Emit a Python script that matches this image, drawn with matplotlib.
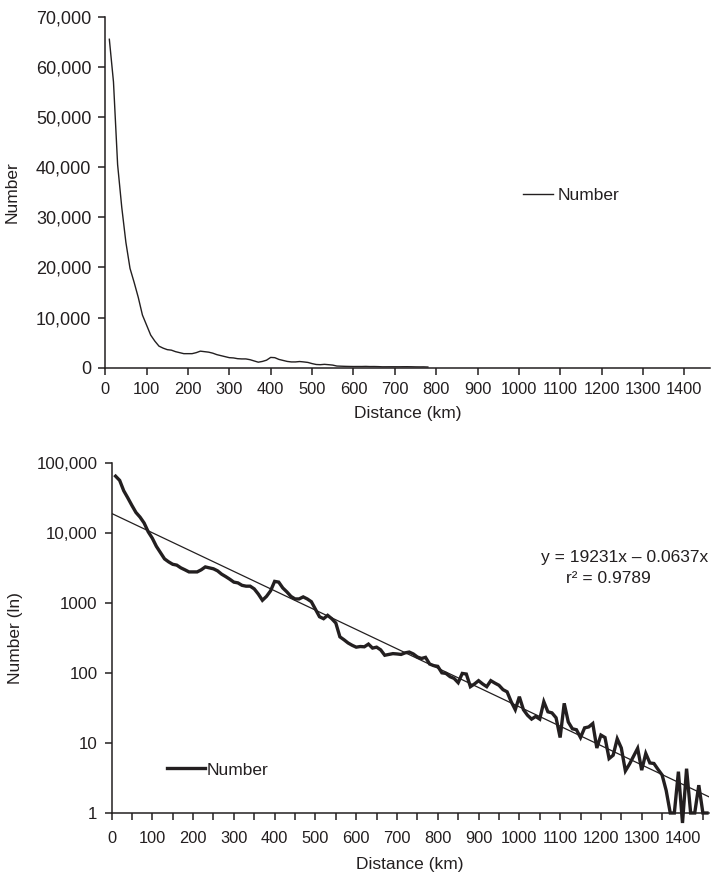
import matplotlib
matplotlib.use("Agg")
import matplotlib.pyplot as plt
import numpy as np
from matplotlib.ticker import FixedLocator, FuncFormatter, MultipleLocator, NullLocator

plt.rcParams["font.family"] = ["Liberation Sans", "DejaVu Sans"]

INK = "#231f20"

# distance bins (km) and counts
distance = list(range(10, 1470, 10))
number = [
    65500, 57000, 40500, 32000, 25000, 19800, 17000, 14000, 10500, 8500,
    6500, 5300, 4300, 3900, 3600, 3500, 3200, 3000, 2800, 2800,
    2800, 3000, 3300, 3200, 3100, 2900, 2600, 2400, 2200, 2000,
    1950, 1800, 1750, 1750, 1600, 1350, 1100, 1250, 1500, 2050,
    2000, 1650, 1450, 1250, 1150, 1150, 1230, 1150, 1050, 820,
    640, 600, 670, 600, 520, 330, 300, 270, 250, 235,
    240, 238, 260, 228, 235, 215, 180, 185, 190, 188,
    185, 195, 200, 188, 170, 162, 168, 135, 128, 125,
    101, 99, 89, 84, 73, 99, 97, 64, 70, 78,
    70, 64, 78, 72, 67, 58, 54, 39, 30, 46,
    30, 25, 22, 24, 22, 39, 28, 27, 23, 12,
    37, 20, 16, 15.5, 12, 16.5, 17, 19, 8.5, 13,
    12, 6, 6.7, 11.5, 8.5, 4, 5, 6.5, 8.4, 4.1,
    7.1, 5.2, 5.1, 4.2, 3.5, 2.1, 1, 1, 3.9, 0.72,
    4.3, 1, 1, 2.5, 1, 1,
]
top_max_km = 780

# trendline shown on the chart
fit_a = 19231
fit_k = 0.00637
fit_label = "y = 19231x \u2013 0.0637x"
r2_label = "r\u00b2 = 0.9789"

lin_ticks = [0, 10000, 20000, 30000, 40000, 50000, 60000, 70000]
log_ticks = [1, 10, 100, 1000, 10000, 100000]
log_labels = ["1", "10", "100", "1000", "10,000", "100,000"]
x_ticks = list(range(0, 1500, 100))

W, H = 711, 874
fig = plt.figure(figsize=(W / 100, H / 100), dpi=100)


def px_axes(left, top, right, bottom):
    return fig.add_axes([left / W, 1 - bottom / H, (right - left) / W, (bottom - top) / H])


def style(ax):
    for s in ["top", "right"]:
        ax.spines[s].set_visible(False)
    for s in ["left", "bottom"]:
        ax.spines[s].set_color(INK)
        ax.spines[s].set_linewidth(1.1)
    ax.tick_params(direction="out", length=5, width=1.1, color=INK, labelcolor=INK)


x = np.array(distance)
y = np.array(number, dtype=float)

# top: linear
ax1 = px_axes(105.2, 16.7, 710, 367.7)
style(ax1)
mask = x <= top_max_km
ax1.plot(x[mask], y[mask], color=INK, lw=1.0, label="Number")
ax1.set_xlim(0, 1462)
ax1.set_ylim(0, 70000)
ax1.yaxis.set_major_locator(FixedLocator(lin_ticks))
ax1.yaxis.set_major_formatter(FuncFormatter(lambda v, p: f"{int(v):,}"))
ax1.xaxis.set_major_locator(FixedLocator(x_ticks))
ax1.tick_params(axis="y", labelsize=13, pad=5)
ax1.tick_params(axis="x", labelsize=11.8, pad=5)
ax1.set_xlabel("Distance (km)", fontsize=12.5, color=INK, labelpad=7)
ax1.set_ylabel("Number", fontsize=12.5, color=INK, labelpad=12)
ax1.legend(loc="center left", bbox_to_anchor=(0.691, 0.492), frameon=False,
           handlelength=1.75, handletextpad=0.25, borderpad=0, borderaxespad=0,
           fontsize=12.5, labelcolor=INK)

# bottom: log
ax2 = px_axes(111.5, 463.3, 709, 813)
style(ax2)
ax2.set_yscale("log")
ax2.plot(x, y, color=INK, lw=2.4, label="Number", clip_on=False, solid_joinstyle="miter")
xf = np.linspace(0, 1465, 200)
ax2.plot(xf, fit_a * np.exp(-fit_k * xf), color=INK, lw=0.9)
ax2.set_xlim(0, 1465)
ax2.set_ylim(1, 100000)
ax2.yaxis.set_major_locator(FixedLocator(log_ticks))
ax2.yaxis.set_major_formatter(FuncFormatter(lambda v, p: log_labels[log_ticks.index(int(round(v)))] if int(round(v)) in log_ticks else ""))
ax2.yaxis.set_minor_locator(NullLocator())
ax2.xaxis.set_major_locator(MultipleLocator(50))
ax2.xaxis.set_major_formatter(FuncFormatter(lambda v, p: f"{int(v)}" if int(v) % 100 == 0 else ""))
ax2.tick_params(axis="y", labelsize=12.2, pad=5)
ax2.tick_params(axis="x", labelsize=11.8, pad=8)
ax2.set_xlabel("Distance (km)", fontsize=12.5, color=INK, labelpad=8)
ax2.set_ylabel("Number (ln)", fontsize=12.5, color=INK, labelpad=10)
ax2.legend(loc="center left", bbox_to_anchor=(0.093, 0.123), frameon=False,
           handlelength=2.2, handletextpad=0.1, borderpad=0, borderaxespad=0,
           fontsize=12.5, labelcolor=INK, handles=ax2.lines[:1])
ax2.text(0.999, 0.732, fit_label, transform=ax2.transAxes, ha="right", va="center",
         fontsize=12.5, color=INK)
ax2.text(0.832, 0.67, r2_label, transform=ax2.transAxes, ha="center", va="center",
         fontsize=12.5, color=INK)

fig.savefig("out.png", dpi=100)
